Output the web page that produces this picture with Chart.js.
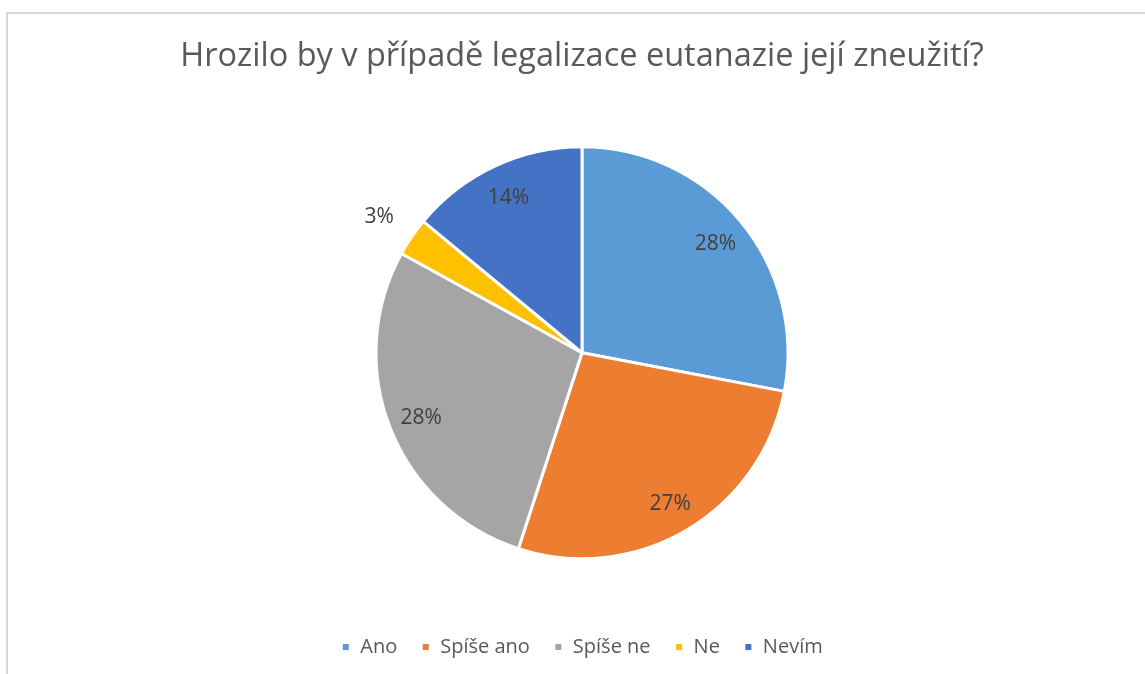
<!DOCTYPE html>
<html>
<head>
<meta charset="utf-8">
<script src="https://cdn.jsdelivr.net/npm/chart.js@4/dist/chart.umd.min.js"></script>
<style>
  html, body { margin: 0; padding: 0; background: #fff; overflow: hidden; }
  #wrap { position: relative; width: 1145px; height: 674px; }
</style>
</head>
<body>
<div id="wrap"><canvas id="c" width="1145" height="674"></canvas></div>
<script>
const titleText = 'Hrozilo by v případě legalizace eutanazie její zneužití?';
const categories = ['Ano', 'Spíše ano', 'Spíše ne', 'Ne', 'Nevím'];
const percentValues = [28, 27, 28, 3, 14];
const sliceColors = ['#5B9BD5', '#ED7D31', '#A5A5A5', '#FFC000', '#4472C4'];

const FONT = '"Open Sans", Lato, sans-serif';

const framePlugin = {
  id: 'frame',
  beforeDraw(chart) {
    const ctx = chart.ctx;
    ctx.save();
    ctx.fillStyle = '#ffffff';
    ctx.fillRect(0, 0, chart.width, chart.height);
    ctx.strokeStyle = '#d9d9d9';
    ctx.lineWidth = 2;
    ctx.beginPath();
    ctx.moveTo(7, chart.height + 5);
    ctx.lineTo(7, 13);
    ctx.lineTo(chart.width + 5, 13);
    ctx.stroke();
    ctx.restore();
  }
};

const labelPlugin = {
  id: 'sliceLabels',
  afterDatasetsDraw(chart) {
    const ctx = chart.ctx;
    const meta = chart.getDatasetMeta(0);
    ctx.save();
    ctx.font = '21px ' + FONT;
    ctx.fillStyle = '#404040';
    ctx.textAlign = 'center';
    ctx.textBaseline = 'middle';
    meta.data.forEach((arc, i) => {
      const p = arc.getProps(['x', 'y', 'startAngle', 'endAngle', 'outerRadius'], true);
      const mid = (p.startAngle + p.endAngle) / 2;
      const span = p.endAngle - p.startAngle;
      const f = span < 0.3 ? 1.19 : 0.84;
      const x = p.x + Math.cos(mid) * p.outerRadius * f;
      const y = p.y + Math.sin(mid) * p.outerRadius * f + 2;
      ctx.fillText(percentValues[i] + '%', x, y);
    });
    ctx.restore();
  }
};

new Chart(document.getElementById('c'), {
  type: 'pie',
  data: {
    labels: categories,
    datasets: [{
      data: percentValues,
      backgroundColor: sliceColors,
      borderColor: '#ffffff',
      borderWidth: 3,
      radius: 206,
      hoverOffset: 0
    }]
  },
  options: {
    responsive: false,
    animation: false,
    layout: { padding: { left: 19, right: 0, top: 0, bottom: 7 } },
    plugins: {
      title: {
        display: true,
        text: titleText,
        color: '#595959',
        font: { family: FONT, size: 32.5, weight: 'normal' },
        padding: { top: 37.5, bottom: 16 }
      },
      legend: {
        display: true,
        position: 'bottom',
        labels: {
          color: '#595959',
          font: { family: FONT, size: 20 },
          boxWidth: 9,
          boxHeight: 9,
          padding: 24
        }
      },
      tooltip: { enabled: false }
    }
  },
  plugins: [framePlugin, labelPlugin]
});
</script>
</body>
</html>
